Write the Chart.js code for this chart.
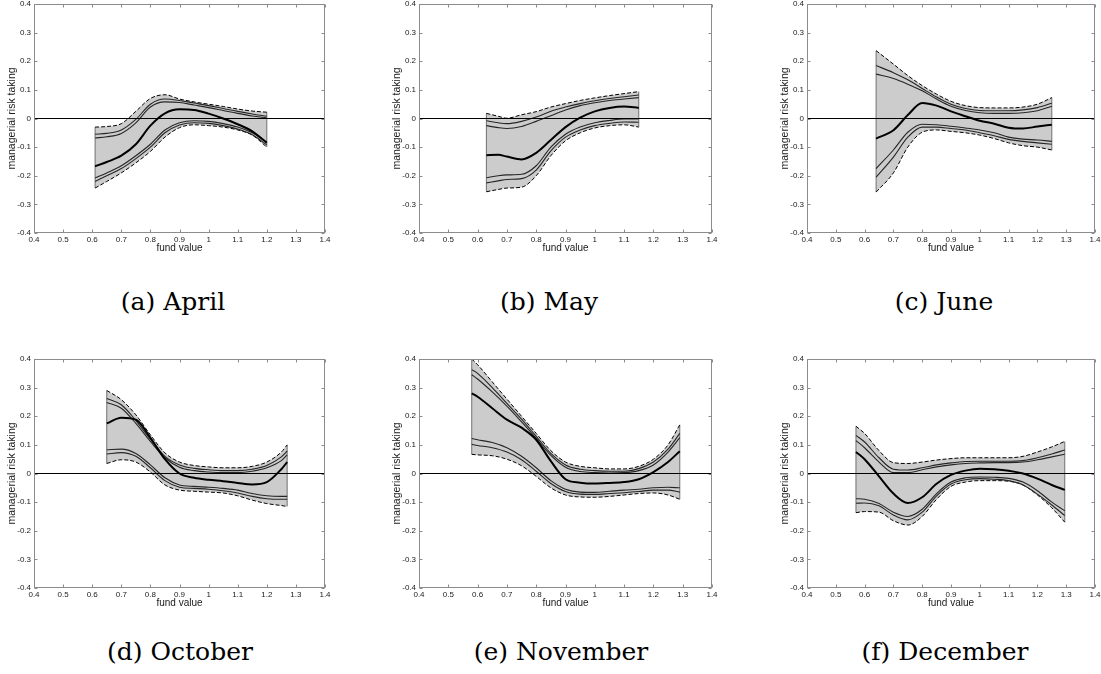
<!DOCTYPE html>
<html><head><meta charset="utf-8">
<script src="https://cdn.jsdelivr.net/npm/chart.js@4.4.0/dist/chart.umd.min.js"></script>
<style>
html,body{margin:0;padding:0;background:#fff;width:1101px;height:674px;overflow:hidden;position:relative}
canvas{position:absolute}
.cap{position:absolute;font-family:"DejaVu Serif",serif;font-size:25px;line-height:25px;color:#000;white-space:nowrap;transform:translateX(-50%)}
</style></head><body>
<script>
// ---- axes / text ----
const xTicks = [0.4,0.5,0.6,0.7,0.8,0.9,1.0,1.1,1.2,1.3,1.4];
const xTickLabels = ['0.4','0.5','0.6','0.7','0.8','0.9','1','1.1','1.2','1.3','1.4'];
const yTicks = [-0.4,-0.3,-0.2,-0.1,0,0.1,0.2,0.3,0.4];
const yTickLabels = ['-0.4','-0.3','-0.2','-0.1','0','0.1','0.2','0.3','0.4'];
const xTitle = 'fund value';
const yTitle = 'managerial risk taking';
const captions = ['(a) April','(b) May','(c) June','(d) October','(e) November','(f) December'];

// ---- (a) April ----
const aprX     = [0.61,0.65,0.7,0.75,0.8,0.85,0.9,0.95,1.0,1.05,1.1,1.15,1.2];
const aprUpper = [-0.03,-0.028,-0.018,0.025,0.07,0.083,0.068,0.058,0.05,0.042,0.033,0.026,0.022];
const aprUp1   = [-0.055,-0.052,-0.04,-0.003,0.05,0.068,0.063,0.054,0.045,0.035,0.025,0.016,0.008];
const aprUp2   = [-0.068,-0.064,-0.052,-0.015,0.04,0.058,0.056,0.047,0.038,0.028,0.018,0.009,0.002];
const aprMid   = [-0.167,-0.152,-0.13,-0.09,-0.025,0.018,0.032,0.03,0.017,0.0,-0.02,-0.045,-0.085];
const aprLo1   = [-0.208,-0.19,-0.165,-0.13,-0.09,-0.04,-0.015,-0.008,-0.01,-0.018,-0.03,-0.05,-0.083];
const aprLo2   = [-0.22,-0.2,-0.175,-0.14,-0.1,-0.05,-0.023,-0.015,-0.017,-0.025,-0.037,-0.057,-0.092];
const aprLower = [-0.243,-0.22,-0.19,-0.155,-0.115,-0.065,-0.032,-0.022,-0.025,-0.03,-0.04,-0.058,-0.1];

// ---- (b) May ----
const mayX     = [0.63,0.67,0.7,0.75,0.8,0.85,0.9,0.95,1.0,1.05,1.1,1.15];
const mayUpper = [0.018,0.008,0.001,0.013,0.024,0.04,0.052,0.063,0.072,0.08,0.087,0.094];
const mayUp1   = [-0.008,-0.015,-0.018,-0.01,0.005,0.025,0.04,0.052,0.062,0.07,0.076,0.082];
const mayUp2   = [-0.025,-0.032,-0.035,-0.028,-0.01,0.01,0.03,0.045,0.055,0.063,0.068,0.073];
const mayMid   = [-0.128,-0.127,-0.133,-0.143,-0.12,-0.075,-0.03,0.003,0.025,0.037,0.042,0.037];
const mayLo1   = [-0.207,-0.2,-0.197,-0.195,-0.165,-0.1,-0.055,-0.03,-0.015,-0.007,-0.002,-0.002];
const mayLo2   = [-0.225,-0.218,-0.213,-0.21,-0.18,-0.113,-0.065,-0.04,-0.025,-0.017,-0.012,-0.013];
const mayLower = [-0.256,-0.248,-0.243,-0.24,-0.2,-0.13,-0.078,-0.05,-0.033,-0.025,-0.022,-0.03];

// ---- (c) June ----
const junX     = [0.64,0.7,0.75,0.8,0.85,0.9,0.95,1.0,1.05,1.1,1.15,1.2,1.25];
const junUpper = [0.237,0.19,0.15,0.115,0.085,0.06,0.045,0.038,0.037,0.037,0.04,0.05,0.073];
const junUp1   = [0.185,0.16,0.135,0.105,0.075,0.05,0.035,0.028,0.027,0.027,0.03,0.038,0.053];
const junUp2   = [0.155,0.14,0.12,0.097,0.068,0.043,0.028,0.02,0.018,0.018,0.02,0.027,0.043];
const junMid   = [-0.07,-0.041,0.012,0.054,0.045,0.025,0.008,-0.008,-0.018,-0.032,-0.035,-0.028,-0.022];
const junLo1   = [-0.175,-0.11,-0.048,-0.02,-0.022,-0.027,-0.033,-0.04,-0.05,-0.065,-0.072,-0.075,-0.08];
const junLo2   = [-0.205,-0.135,-0.065,-0.03,-0.03,-0.035,-0.04,-0.05,-0.06,-0.073,-0.08,-0.085,-0.09];
const junLower = [-0.257,-0.19,-0.1,-0.048,-0.04,-0.045,-0.05,-0.058,-0.07,-0.085,-0.095,-0.1,-0.11];

// ---- (d) October ----
const octX     = [0.65,0.7,0.75,0.8,0.85,0.9,0.95,1.0,1.05,1.1,1.15,1.2,1.25,1.27];
const octUpper = [0.29,0.258,0.205,0.135,0.072,0.04,0.028,0.023,0.02,0.02,0.025,0.04,0.075,0.1];
const octUp1   = [0.262,0.24,0.185,0.12,0.06,0.03,0.018,0.013,0.01,0.01,0.015,0.028,0.058,0.078];
const octUp2   = [0.248,0.228,0.175,0.112,0.055,0.022,0.01,0.005,0.003,0.003,0.008,0.02,0.045,0.065];
const octMid   = [0.175,0.195,0.188,0.125,0.05,0.0,-0.015,-0.022,-0.027,-0.033,-0.038,-0.03,0.015,0.04];
const octLo1   = [0.083,0.085,0.07,0.03,-0.015,-0.04,-0.045,-0.048,-0.052,-0.058,-0.07,-0.078,-0.08,-0.08];
const octLo2   = [0.068,0.073,0.06,0.02,-0.025,-0.048,-0.052,-0.055,-0.06,-0.068,-0.08,-0.088,-0.09,-0.09];
const octLower = [0.035,0.048,0.04,0.005,-0.04,-0.058,-0.062,-0.065,-0.068,-0.078,-0.093,-0.105,-0.112,-0.115];

// ---- (e) November ----
const novX     = [0.58,0.6,0.65,0.7,0.75,0.8,0.85,0.9,0.95,1.0,1.05,1.1,1.15,1.2,1.25,1.29];
const novUpper = [0.4,0.38,0.32,0.26,0.2,0.14,0.08,0.04,0.025,0.02,0.016,0.016,0.025,0.05,0.1,0.17];
const novUp1   = [0.363,0.35,0.3,0.245,0.19,0.13,0.07,0.03,0.015,0.01,0.008,0.008,0.017,0.04,0.085,0.14];
const novUp2   = [0.345,0.33,0.285,0.235,0.18,0.123,0.063,0.022,0.007,0.003,0.002,0.003,0.01,0.03,0.075,0.125];
const novMid   = [0.28,0.268,0.228,0.188,0.16,0.118,0.043,-0.02,-0.032,-0.035,-0.033,-0.03,-0.02,0.005,0.04,0.078];
const novLo1   = [0.122,0.118,0.108,0.09,0.06,0.02,-0.025,-0.055,-0.065,-0.066,-0.062,-0.058,-0.055,-0.05,-0.048,-0.05];
const novLo2   = [0.102,0.098,0.09,0.075,0.048,0.008,-0.035,-0.063,-0.072,-0.073,-0.07,-0.067,-0.063,-0.058,-0.058,-0.065];
const novLower = [0.067,0.065,0.062,0.05,0.027,-0.01,-0.05,-0.075,-0.082,-0.083,-0.08,-0.075,-0.07,-0.068,-0.075,-0.09];

// ---- (f) December ----
const decX     = [0.57,0.6,0.65,0.7,0.75,0.8,0.85,0.9,0.95,1.0,1.05,1.1,1.15,1.2,1.25,1.295];
const decUpper = [0.165,0.14,0.08,0.038,0.035,0.04,0.047,0.052,0.055,0.055,0.055,0.055,0.06,0.075,0.093,0.112];
const decUp1   = [0.133,0.11,0.055,0.015,0.012,0.02,0.03,0.037,0.042,0.043,0.043,0.043,0.045,0.055,0.068,0.082];
const decUp2   = [0.115,0.09,0.04,0.003,0.003,0.013,0.023,0.03,0.035,0.037,0.038,0.038,0.04,0.048,0.058,0.067];
const decMid   = [0.075,0.05,-0.01,-0.07,-0.103,-0.083,-0.036,-0.005,0.01,0.017,0.015,0.01,0.0,-0.018,-0.04,-0.057];
const decLo1   = [-0.088,-0.09,-0.105,-0.135,-0.15,-0.125,-0.07,-0.03,-0.015,-0.012,-0.013,-0.017,-0.03,-0.06,-0.1,-0.13];
const decLo2   = [-0.104,-0.103,-0.113,-0.145,-0.162,-0.135,-0.078,-0.037,-0.022,-0.018,-0.02,-0.025,-0.04,-0.072,-0.11,-0.147];
const decLower = [-0.137,-0.133,-0.135,-0.165,-0.18,-0.15,-0.09,-0.045,-0.03,-0.025,-0.025,-0.027,-0.04,-0.075,-0.12,-0.17];

// ---- layout (plot-area pixel boxes) ----
const panels = [
  {x:aprX,upper:aprUpper,up1:aprUp1,up2:aprUp2,mid:aprMid,lo1:aprLo1,lo2:aprLo2,lower:aprLower,left:34,top:4,w:291,cap:173,capTop:289},
  {x:mayX,upper:mayUpper,up1:mayUp1,up2:mayUp2,mid:mayMid,lo1:mayLo1,lo2:mayLo2,lower:mayLower,left:419,top:4,w:293,cap:549,capTop:289},
  {x:junX,upper:junUpper,up1:junUp1,up2:junUp2,mid:junMid,lo1:junLo1,lo2:junLo2,lower:junLower,left:807,top:4,w:288,cap:944,capTop:289},
  {x:octX,upper:octUpper,up1:octUp1,up2:octUp2,mid:octMid,lo1:octLo1,lo2:octLo2,lower:octLower,left:34,top:359,w:291,cap:180,capTop:639},
  {x:novX,upper:novUpper,up1:novUp1,up2:novUp2,mid:novMid,lo1:novLo1,lo2:novLo2,lower:novLower,left:419,top:359,w:293,cap:561,capTop:639},
  {x:decX,upper:decUpper,up1:decUp1,up2:decUp2,mid:decMid,lo1:decLo1,lo2:decLo2,lower:decLower,left:807,top:359,w:288,cap:945,capTop:639}
];

const FONT = 'Liberation Sans, Arial, sans-serif';
const YAXW = 34, XAXH = 25, PADT = 4, PADR = 24, PLOTH = 229;

const boxPlugin = {
  id: 'box',
  afterDatasetsDraw(chart) {
    const {ctx, chartArea: a, scales: {x, y}} = chart;
    ctx.save();
    ctx.strokeStyle = '#8c8c8c';
    ctx.lineWidth = 1;
    const L = Math.round(a.left) + 0.5, R = Math.round(a.right) - 0.5;
    const T = Math.round(a.top) + 0.5, B = Math.round(a.bottom) - 0.5;
    ctx.strokeRect(L, T, R - L, B - T);
    ctx.beginPath();
    xTicks.forEach(v => {
      const px = Math.round(x.getPixelForValue(v)) + 0.5;
      ctx.moveTo(px, B); ctx.lineTo(px, B - 3);
      ctx.moveTo(px, T); ctx.lineTo(px, T + 3);
    });
    yTicks.forEach(v => {
      const py = Math.round(y.getPixelForValue(v)) + 0.5;
      ctx.moveTo(L, py); ctx.lineTo(L + 3, py);
      ctx.moveTo(R, py); ctx.lineTo(R - 3, py);
    });
    ctx.stroke();
    ctx.restore();
  }
};

function makeChart(p, idx) {
  const W = YAXW + p.w + PADR, H = PADT + PLOTH + XAXH;
  const cv = document.createElement('canvas');
  cv.width = W; cv.height = H;
  cv.style.width = W + 'px'; cv.style.height = H + 'px';
  cv.style.left = (p.left - YAXW) + 'px';
  cv.style.top = (p.top - PADT) + 'px';
  document.body.appendChild(cv);

  const cap = document.createElement('div');
  cap.className = 'cap';
  cap.textContent = captions[idx];
  cap.style.left = p.cap + 'px';
  cap.style.top = p.capTop + 'px';
  document.body.appendChild(cap);

  const pts = ys => p.x.map((xv, i) => ({x: xv, y: ys[i]}));
  const n = p.x.length - 1;
  const thin = (ys) => ({data: pts(ys), borderColor: '#262626', borderWidth: 1.1, fill: false, order: 2});
  const straight = {cubicInterpolationMode: 'default', tension: 0};

  const datasets = [
    {data: pts(p.upper), borderColor: '#000', borderWidth: 1, borderDash: [4, 2],
     fill: {target: '+1'}, backgroundColor: '#cccccc', order: 3},
    {data: pts(p.lower), borderColor: '#000', borderWidth: 1, borderDash: [4, 2], fill: false, order: 3},
    thin(p.up1), thin(p.up2), thin(p.lo1), thin(p.lo2),
    {data: pts(p.mid), borderColor: '#000', borderWidth: 2, fill: false, order: 0},
    Object.assign({data: [{x: xTicks[0], y: 0}, {x: xTicks[xTicks.length - 1], y: 0}],
      borderColor: '#000', borderWidth: 1.2, fill: false, order: 1}, straight),
    Object.assign({data: [{x: p.x[0], y: p.lower[0]}, {x: p.x[0], y: p.upper[0]}],
      borderColor: '#6e6e6e', borderWidth: 1, fill: false, order: 4}, straight),
    Object.assign({data: [{x: p.x[n], y: p.lower[n]}, {x: p.x[n], y: p.upper[n]}],
      borderColor: '#6e6e6e', borderWidth: 1, fill: false, order: 4}, straight)
  ];

  new Chart(cv, {
    type: 'line',
    data: {datasets},
    plugins: [boxPlugin],
    options: {
      responsive: false,
      devicePixelRatio: 1,
      animation: false,
      events: [],
      layout: {padding: {left: 0, top: PADT, right: PADR, bottom: 0}},
      elements: {
        point: {radius: 0, hoverRadius: 0},
        line: {cubicInterpolationMode: 'monotone', borderCapStyle: 'butt'}
      },
      plugins: {
        legend: {display: false},
        tooltip: {enabled: false},
        filler: {drawTime: 'beforeDatasetsDraw', propagate: false}
      },
      scales: {
        x: {
          type: 'linear', min: xTicks[0], max: xTicks[xTicks.length - 1],
          afterBuildTicks: s => { s.ticks = xTicks.map(v => ({value: v})); },
          afterFit: s => { s.height = XAXH; s.paddingLeft = 0; s.paddingRight = 0; s.paddingTop = 0; s.paddingBottom = 0; },
          grid: {display: false, drawTicks: false},
          border: {display: false},
          ticks: {
            autoSkip: false, maxRotation: 0, padding: 2, color: '#1a1a1a',
            font: {family: FONT, size: 8},
            callback: (v) => xTickLabels[xTicks.findIndex(t => Math.abs(t - v) < 1e-9)]
          },
          title: {display: true, text: xTitle, color: '#1a1a1a',
                  font: {family: FONT, size: 10}, padding: {top: 0, bottom: 4}}
        },
        y: {
          type: 'linear', min: yTicks[0], max: yTicks[yTicks.length - 1],
          afterBuildTicks: s => { s.ticks = yTicks.map(v => ({value: v})); },
          afterFit: s => { s.width = YAXW; s.paddingLeft = 0; s.paddingRight = 0; s.paddingTop = 0; s.paddingBottom = 0; },
          grid: {display: false, drawTicks: false},
          border: {display: false},
          ticks: {
            autoSkip: false, padding: 3, color: '#1a1a1a',
            font: {family: FONT, size: 8},
            callback: (v) => yTickLabels[yTicks.findIndex(t => Math.abs(t - v) < 1e-9)]
          },
          title: {display: true, text: yTitle, color: '#1a1a1a',
                  font: {family: FONT, size: 10.5}, padding: {top: 6, bottom: 0}}
        }
      }
    }
  });
}

panels.forEach(makeChart);
</script>
</body></html>
